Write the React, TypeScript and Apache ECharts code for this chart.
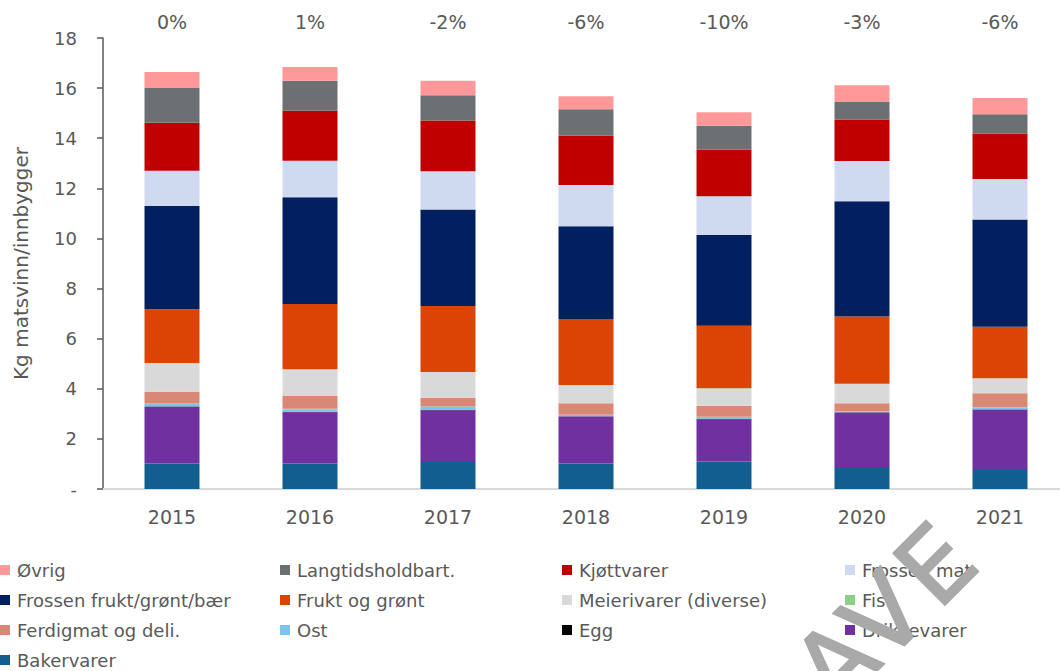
import React, { useEffect, useRef } from "react";
import * as echarts from "echarts";

const years = ["2015", "2016", "2017", "2018", "2019", "2020", "2021"];
const changeLabels = ["0%", "1%", "-2%", "-6%", "-10%", "-3%", "-6%"];
const yTicks = [0, 2, 4, 6, 8, 10, 12, 14, 16, 18];

const bakervarer = [1.02, 1.02, 1.08, 1.02, 1.1, 0.88, 0.76];
const drikkevarer = [2.25, 2.04, 2.06, 1.87, 1.68, 2.17, 2.39];
const egg = [0.02, 0.02, 0.02, 0.01, 0.02, 0.01, 0.02];
const ost = [0.1, 0.1, 0.11, 0.05, 0.07, 0.04, 0.09];
const fisk = [0.02, 0.02, 0.02, 0.01, 0.01, 0.01, 0.01];
const ferdigmat = [0.47, 0.51, 0.35, 0.46, 0.44, 0.31, 0.55];
const meierivarer = [1.15, 1.07, 1.03, 0.73, 0.7, 0.78, 0.6];
const fruktOgGront = [2.14, 2.6, 2.63, 2.63, 2.5, 2.68, 2.06];
const frossenFrukt = [4.12, 4.26, 3.86, 3.71, 3.62, 4.6, 4.28];
const frossenMat = [1.41, 1.46, 1.52, 1.64, 1.54, 1.61, 1.61];
const kjottvarer = [1.92, 2.0, 2.03, 1.97, 1.86, 1.66, 1.82];
const langtidsholdbart = [1.38, 1.19, 1.01, 1.06, 0.96, 0.7, 0.77];
const ovrig = [0.64, 0.55, 0.57, 0.52, 0.54, 0.66, 0.65];

const seriesDefs = [
  { name: "Bakervarer", data: bakervarer, color: "#125e8f" },
  { name: "Drikkevarer", data: drikkevarer, color: "#7030a0" },
  { name: "Egg", data: egg, color: "#000000" },
  { name: "Ost", data: ost, color: "#7cc3ef" },
  { name: "Fisk", data: fisk, color: "#8ccf88" },
  { name: "Ferdigmat og deli.", data: ferdigmat, color: "#d98875" },
  { name: "Meierivarer (diverse)", data: meierivarer, color: "#d9d9d9" },
  { name: "Frukt og grønt", data: fruktOgGront, color: "#db4405" },
  { name: "Frossen frukt/grønt/bær", data: frossenFrukt, color: "#022060" },
  { name: "Frossen mat", data: frossenMat, color: "#cfd9ef" },
  { name: "Kjøttvarer", data: kjottvarer, color: "#c00000" },
  { name: "Langtidsholdbart.", data: langtidsholdbart, color: "#6d7073" },
  { name: "Øvrig", data: ovrig, color: "#ff9999" },
];

const legendColumns = [
  ["Øvrig", "Frossen frukt/grønt/bær", "Ferdigmat og deli.", "Bakervarer"],
  ["Langtidsholdbart.", "Frukt og grønt", "Ost"],
  ["Kjøttvarer", "Meierivarer (diverse)", "Egg"],
  ["Frossen mat", "Fisk", "Drikkevarer"],
];
const legendLefts = [0, 280, 562, 845];

const watermarkLetters = [
  { ch: "A", x: 836, y: 663 },
  { ch: "V", x: 884, y: 617 },
  { ch: "E", x: 936, y: 565 },
];

const FONT = "'DejaVu Sans', sans-serif";
const TEXT = "#595959";

export default function App() {
  const ref = useRef<HTMLDivElement>(null);

  useEffect(() => {
    document.body.style.margin = "0";
    if (!ref.current) return;
    const chart = echarts.init(ref.current, null, { renderer: "svg" });
    chart.setOption({
      animation: false,
      backgroundColor: "#ffffff",
      textStyle: { fontFamily: FONT },
      grid: {
        left: 103,
        top: 38,
        width: 966,
        height: 451,
        outerBoundsMode: "none",
        containLabel: false,
      },
      xAxis: [
        {
          type: "category",
          data: years,
          position: "bottom",
          axisLine: { show: true, lineStyle: { color: "#d9d9d9", width: 2 } },
          axisTick: { show: false },
          axisLabel: { color: TEXT, fontSize: 19, margin: 18, fontFamily: FONT },
        },
        {
          type: "category",
          data: changeLabels,
          position: "top",
          axisLine: { show: false },
          axisTick: { show: false },
          axisLabel: { color: TEXT, fontSize: 19, margin: 7, fontFamily: FONT },
        },
      ],
      yAxis: {
        type: "value",
        min: yTicks[0],
        max: yTicks[yTicks.length - 1],
        interval: 2,
        name: "Kg matsvinn/innbygger",
        nameLocation: "middle",
        nameGap: 72,
        nameTextStyle: { color: TEXT, fontSize: 20, fontFamily: FONT },
        axisLine: { show: true, lineStyle: { color: "#595959", width: 1.5 } },
        axisTick: { show: true, length: 6, lineStyle: { color: "#595959", width: 1.5 } },
        splitLine: { show: false },
        axisLabel: {
          color: TEXT,
          fontSize: 18,
          margin: 26,
          fontFamily: FONT,
          formatter: (v: number) => (v === 0 ? "-" : String(v)),
        },
      },
      legend: legendColumns.map((col, i) => ({
        data: col,
        orient: "vertical",
        left: legendLefts[i],
        top: 561,
        padding: 0,
        itemGap: 12,
        itemWidth: 10,
        itemHeight: 10,
        icon: "rect",
        selectedMode: false,
        textStyle: { color: TEXT, fontSize: 18, fontFamily: FONT, lineHeight: 18, padding: [0, 0, 0, 2] },
      })),
      series: seriesDefs.map((s) => ({
        name: s.name,
        type: "bar",
        stack: "total",
        data: s.data,
        barWidth: 55,
        itemStyle: { color: s.color },
        emphasis: { disabled: true },
      })),
      graphic: watermarkLetters.map((l) => ({
        type: "text",
        x: l.x,
        y: l.y,
        rotation: Math.PI / 4,
        z: 100,
        silent: true,
        style: {
          text: l.ch,
          fill: "#a9a9a9",
          stroke: "#a9a9a9",
          lineWidth: 2,
          fontSize: 100,
          fontFamily: FONT,
          align: "center",
          verticalAlign: "middle",
        },
      })),
    });
    return () => chart.dispose();
  }, []);

  return (
    <div
      ref={ref}
      style={{ position: "fixed", left: 0, top: 0, width: 1060, height: 671 }}
    />
  );
}
